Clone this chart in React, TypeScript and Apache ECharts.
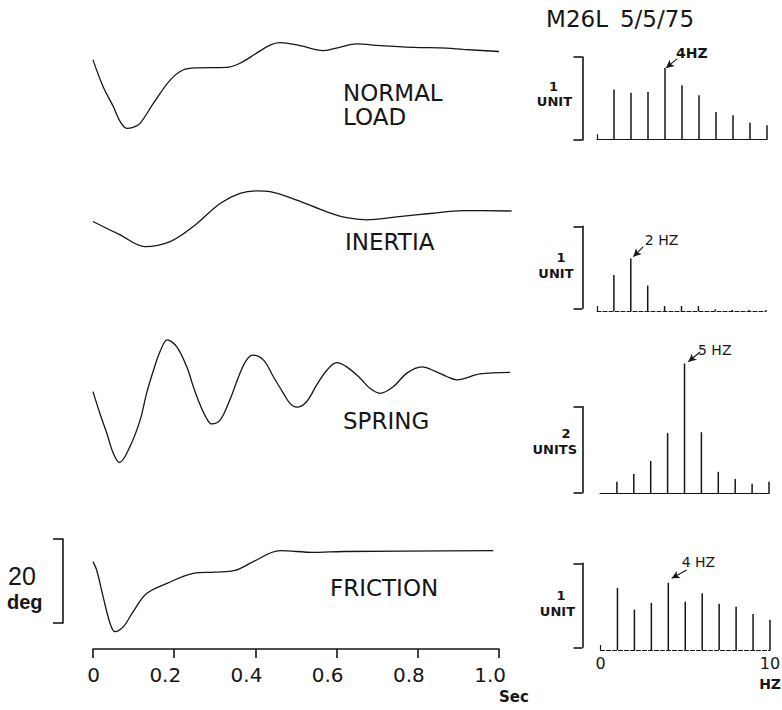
import React, { useEffect, useRef } from "react";
import * as echarts from "echarts";

// ---------- DATA ----------
// time traces: t in seconds, value in degrees relative to final position
const timeTicks = [0, 0.2, 0.4, 0.6, 0.8, 1.0];

const normalT = [0, 0.025, 0.05, 0.067, 0.083, 0.1, 0.116, 0.149, 0.19, 0.222, 0.255, 0.329, 0.362, 0.403, 0.436, 0.46, 0.51, 0.567, 0.608, 0.649, 0.707, 0.789, 0.871, 0.912, 1.0];
const normalDeg = [-2.0, -8.4, -13.1, -16.7, -18.3, -18.0, -17.1, -12.3, -6.8, -4.4, -3.9, -3.8, -2.8, -0.4, 1.5, 2.1, 1.4, 0.2, 1.0, 1.8, 1.4, 1.0, 0.8, 0.5, 0];

const inertiaT = [0, 0.067, 0.128, 0.19, 0.247, 0.313, 0.362, 0.403, 0.436, 0.502, 0.576, 0.625, 0.674, 0.748, 0.83, 0.912, 1.031];
const inertiaDeg = [-2.5, -5.7, -8.5, -7.3, -3.7, 1.8, 4.2, 4.8, 4.6, 2.6, -0.2, -1.6, -2.1, -1.4, -0.6, 0.1, 0];

const springT = [0, 0.017, 0.034, 0.05, 0.065, 0.091, 0.116, 0.132, 0.149, 0.165, 0.183, 0.206, 0.231, 0.247, 0.264, 0.28, 0.292, 0.313, 0.337, 0.362, 0.378, 0.393, 0.42, 0.444, 0.469, 0.485, 0.502, 0.526, 0.551, 0.576, 0.6, 0.625, 0.658, 0.682, 0.707, 0.74, 0.773, 0.81, 0.846, 0.871, 0.896, 0.953, 1.027];
const springDeg = [-4.6, -9.8, -14.5, -19.3, -21.5, -17.7, -11.4, -5.0, 0.5, 4.9, 7.7, 6.1, 1.3, -3.4, -7.8, -11.0, -12.3, -11.4, -6.6, -0.2, 2.9, 4.1, 2.9, -1.0, -5.0, -7.4, -8.3, -7.0, -3.0, 0.5, 2.3, 1.3, -1.4, -3.8, -5.0, -3.4, -0.2, 1.3, 0.1, -1.0, -1.8, -0.4, 0];

const frictionT = [0, 0.009, 0.025, 0.042, 0.054, 0.075, 0.099, 0.132, 0.182, 0.247, 0.3, 0.35, 0.395, 0.461, 0.543, 0.617, 0.986];
const frictionDeg = [-2.4, -4.4, -10.8, -17.1, -19.1, -17.9, -14.3, -10.0, -7.6, -5.2, -4.9, -4.5, -2.4, 0.2, -0.2, 0, 0.2];

// spectra: amplitude (units) at 0..10 Hz
const hzCategories = ["0", "1", "2", "3", "4", "5", "6", "7", "8", "9", "10"];
const specNormal = ["-", 0.6, 0.56, 0.57, 0.86, 0.65, 0.53, 0.33, 0.29, 0.2, 0.17];
const specInertia = ["-", 0.44, 0.64, 0.31, 0.06, 0.06, 0.06, 0.02, 0.012, 0.012, 0.012];
const specSpring = ["-", 0.27, 0.45, 0.75, 1.4, 3.02, 1.42, 0.5, 0.33, 0.22, 0.27];
const specFriction = ["-", 0.74, 0.48, 0.56, 0.8, 0.575, 0.675, 0.55, 0.515, 0.43, 0.36];

const traceNames = [["NORMAL", "LOAD"], ["INERTIA"], ["SPRING"], ["FRICTION"]];
const peakLabels = ["4HZ", "2 HZ", "5 HZ", "4 HZ"];
const peakIndex = [4, 2, 5, 4];
const unitLabels = [["1", "UNIT"], ["1", "UNIT"], ["2", "UNITS"], ["1", "UNIT"]];
const unitScale = [1, 1, 2, 1];
const title = ["M26L", "5/5/75"];

// ---------- LAYOUT / STYLE ----------
const W = 782;
const H = 710;
const INK = "#161616";
const DEG_PX = 4.2; // px per degree (20 deg scale bar = 84 px)
const T_LEFT = 93;
const T_PX = 406; // px per second
const SANS = "DejaVu Sans";
const HELV = "Liberation Sans";

const traceLayout = [
  { base: 51.5, min: -20, max: 4, labelX: 343, labelY: [93.3, 116.7] },
  { base: 211, min: -10, max: 6, labelX: 345, labelY: [241.7] },
  { base: 372.3, min: -24, max: 10, labelX: 343, labelY: [420.5] },
  { base: 551.5, min: -22, max: 4, labelX: 330, labelY: [588.3] },
];

const specLayout = [
  { left: 597, width: 170, base: 139.3, unitPx: 83, max: 1, tick: true, dashed: false },
  { left: 597, width: 169, base: 311, unitPx: 82, max: 1, tick: true, dashed: true },
  { left: 600, width: 169, base: 493.3, unitPx: 43, max: 3.2, tick: false, dashed: false },
  { left: 600.5, width: 169.5, base: 650, unitPx: 84, max: 1, tick: true, dashed: true },
];

const bracketLayout = [
  { bottom: 140 },
  { bottom: 308.3 },
  { bottom: 492.7 },
  { bottom: 647.3 },
];

const unitTextPos = [
  { nx: 553.5, ny: 86.7, ux: 572, uy: 101.3 },
  { nx: 561, ny: 257, ux: 573.5, uy: 273.5 },
  { nx: 566, ny: 433, ux: 577, uy: 449 },
  { nx: 561, ny: 595, ux: 575, uy: 611 },
];

const arrowOffsets = [
  { head: [1, 0], tail: [12, -9], text: [11, -15] },
  { head: [2.5, -1.8], tail: [12.5, -11.8], text: [14, -18.5] },
  { head: [3.8, -1.7], tail: [15.5, -11.4], text: [13.5, -13.5] },
  { head: [3.4, -4.5], tail: [18.4, -12.8], text: [13.4, -21] },
];

const traces = [
  { t: normalT, v: normalDeg },
  { t: inertiaT, v: inertiaDeg },
  { t: springT, v: springDeg },
  { t: frictionT, v: frictionDeg },
];
const spectra = [specNormal, specInertia, specSpring, specFriction];

function txt(
  text: string,
  x: number,
  y: number,
  size: number,
  opts: { family?: string; weight?: string; align?: string } = {}
) {
  return {
    type: "text",
    x,
    y,
    silent: true,
    style: {
      text,
      fill: INK,
      fontSize: size,
      fontFamily: opts.family ?? SANS,
      fontWeight: opts.weight ?? "normal",
      textAlign: opts.align ?? "left",
      textVerticalAlign: "middle",
    },
  };
}

function buildOption() {
  const grid: any[] = [];
  const xAxis: any[] = [];
  const yAxis: any[] = [];
  const series: any[] = [];
  const graphics: any[] = [];
  const gridBase = { containLabel: false, outerBoundsMode: "none" };
  const line = { color: INK, width: 1.6 };

  // time traces
  traces.forEach((tr, i) => {
    const L = traceLayout[i];
    const gi = grid.length;
    grid.push({ ...gridBase, left: T_LEFT, top: L.base - L.max * DEG_PX, width: 1.05 * T_PX, height: (L.max - L.min) * DEG_PX });
    xAxis.push({ gridIndex: gi, type: "value", min: 0, max: 1.05, show: false });
    yAxis.push({ gridIndex: gi, type: "value", min: L.min, max: L.max, show: false });
    series.push({
      type: "line",
      xAxisIndex: gi,
      yAxisIndex: gi,
      data: tr.t.map((t, k) => [t, tr.v[k]]),
      smooth: 0.35,
      symbol: "none",
      showSymbol: false,
      lineStyle: { color: INK, width: 1.3 },
    });
    traceNames[i].forEach((name, k) => graphics.push(txt(name, L.labelX, L.labelY[k], 23)));
  });

  // time axis (line + ticks)
  {
    const gi = grid.length;
    grid.push({ ...gridBase, left: T_LEFT, top: 600, width: T_PX, height: 49 });
    xAxis.push({
      gridIndex: gi, type: "value", min: timeTicks[0], max: timeTicks[timeTicks.length - 1], interval: 0.2,
      axisLine: { show: true, onZero: false, lineStyle: line },
      axisTick: { show: true, length: 9, lineStyle: line },
      axisLabel: { show: false }, splitLine: { show: false },
    });
    yAxis.push({ gridIndex: gi, type: "value", min: 0, max: 1, show: false });
  }
  // time axis labels (last digit sits under each tick)
  {
    const gi = grid.length;
    grid.push({ ...gridBase, left: T_LEFT + 7, top: 600, width: T_PX, height: 49 });
    xAxis.push({
      gridIndex: gi, type: "value", min: timeTicks[0], max: timeTicks[timeTicks.length - 1], interval: 0.2,
      axisLine: { show: false }, axisTick: { show: false }, splitLine: { show: false },
      axisLabel: {
        show: true, align: "right", margin: 16, fontSize: 20, fontFamily: SANS, color: INK,
        showMinLabel: true, showMaxLabel: true,
        formatter: (v: number) => (v === 0 ? "0" : v.toFixed(1)),
      },
    });
    yAxis.push({ gridIndex: gi, type: "value", min: 0, max: 1, show: false });
  }
  graphics.push(txt("Sec", 499, 697, 15, { weight: "bold" }));

  // 20 deg scale bar
  {
    const gi = grid.length;
    grid.push({ ...gridBase, left: 63, top: 539, width: 1, height: 20 * DEG_PX });
    xAxis.push({ gridIndex: gi, type: "value", min: 0, max: 1, show: false });
    yAxis.push({
      gridIndex: gi, type: "value", min: 0, max: 20, interval: 20, position: "left",
      axisLine: { show: true, lineStyle: line },
      axisTick: { show: true, length: 10, lineStyle: line },
      axisLabel: { show: false }, splitLine: { show: false },
    });
    graphics.push(txt("20", 8, 575.5, 25, { family: HELV }));
    graphics.push(txt("deg", 7, 601.5, 20, { family: HELV, weight: "bold" }));
  }

  // spectra
  spectra.forEach((spec, i) => {
    const S = specLayout[i];
    const gi = grid.length;
    grid.push({ ...gridBase, left: S.left, top: S.base - S.max * S.unitPx, width: S.width, height: S.max * S.unitPx });
    const isLast = i === spectra.length - 1;
    xAxis.push({
      gridIndex: gi, type: "category", data: hzCategories, boundaryGap: false,
      axisLine: { show: true, onZero: false, lineStyle: { color: INK, width: 1.1, type: S.dashed ? [4, 2] : "solid" } },
      axisTick: { show: S.tick, inside: true, length: 5, interval: (idx: number) => idx === 0, lineStyle: { color: INK, width: 1.2 } },
      axisLabel: isLast
        ? { show: true, interval: (idx: number) => idx === 0 || idx === 10, margin: 5, fontSize: 16, fontFamily: SANS, color: INK }
        : { show: false },
      splitLine: { show: false },
    });
    yAxis.push({ gridIndex: gi, type: "value", min: 0, max: S.max, show: false });

    const pi = peakIndex[i];
    const px = S.left + (pi * S.width) / 10;
    const py = S.base - (spec[pi] as number) * S.unitPx;
    const o = arrowOffsets[i];
    series.push({
      type: "bar",
      xAxisIndex: gi,
      yAxisIndex: gi,
      data: spec,
      barWidth: 1.5,
      itemStyle: { color: INK },
      markLine: {
        silent: true,
        symbol: ["none", "arrow"],
        symbolSize: [6, 8],
        label: { show: false },
        lineStyle: { color: INK, width: 1.1, type: "solid" },
        data: [[{ x: px + o.tail[0], y: py + o.tail[1] }, { x: px + o.head[0], y: py + o.head[1] }]],
      },
    });
    graphics.push(txt(peakLabels[i], px + o.text[0], py + o.text[1], 14, { weight: i === 0 ? "bold" : "normal" }));

    // unit bracket
    const B = bracketLayout[i];
    const bi = grid.length;
    const bh = unitScale[i] * S.unitPx;
    grid.push({ ...gridBase, left: 582.5, top: B.bottom - bh, width: 1, height: bh });
    xAxis.push({ gridIndex: bi, type: "value", min: 0, max: 1, show: false });
    yAxis.push({
      gridIndex: bi, type: "value", min: 0, max: unitScale[i], interval: unitScale[i], position: "left",
      axisLine: { show: true, lineStyle: line },
      axisTick: { show: true, length: 9, lineStyle: line },
      axisLabel: { show: false }, splitLine: { show: false },
    });
    const U = unitTextPos[i];
    graphics.push(txt(unitLabels[i][0], U.nx, U.ny, 13, { weight: "bold", align: "center" }));
    graphics.push(txt(unitLabels[i][1], U.ux, U.uy, 13, { weight: "bold", align: "right" }));
  });

  graphics.push(txt("HZ", 781, 684, 14, { weight: "bold", align: "right" }));
  graphics.push(txt(title[0], 577, 18.5, 23, { align: "center" }));
  graphics.push(txt(title[1], 657, 18.5, 23, { align: "center" }));

  return {
    animation: false,
    backgroundColor: "#ffffff",
    grid,
    xAxis,
    yAxis,
    series,
    graphic: { elements: graphics },
  };
}

export default function App() {
  const ref = useRef<HTMLDivElement>(null);
  useEffect(() => {
    document.body.style.margin = "0";
    const chart = echarts.init(ref.current as HTMLDivElement, null, { renderer: "svg" });
    chart.setOption(buildOption() as any);
    return () => chart.dispose();
  }, []);
  return <div ref={ref} style={{ width: W, height: H, background: "#fff" }} />;
}
